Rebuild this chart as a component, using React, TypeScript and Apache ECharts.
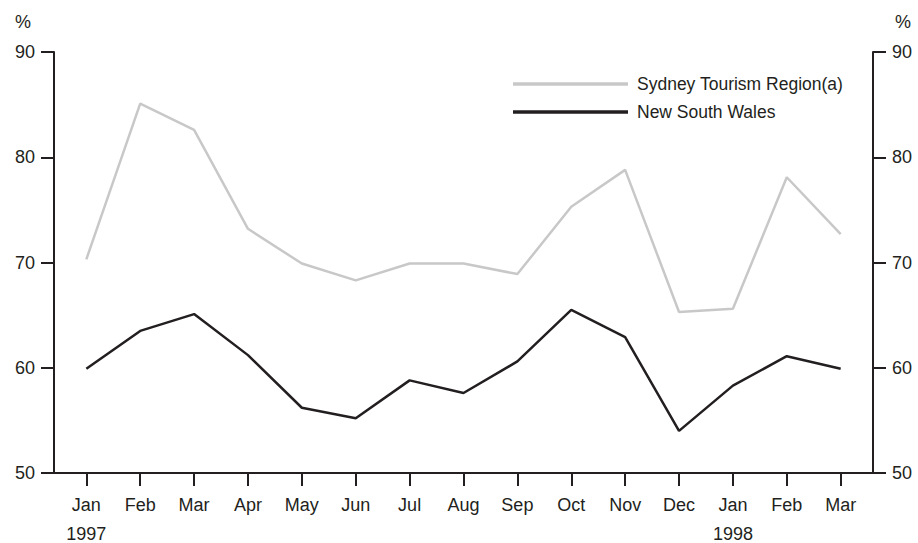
import React, { useEffect, useRef } from "react";
import * as echarts from "echarts";

const months = ["Jan", "Feb", "Mar", "Apr", "May", "Jun", "Jul", "Aug", "Sep", "Oct", "Nov", "Dec", "Jan", "Feb", "Mar"];
const yearLabels: Record<number, string> = { 0: "1997", 12: "1998" };
const sydney = [70.3, 85.1, 82.6, 73.2, 69.9, 68.3, 69.9, 69.9, 68.9, 75.3, 78.8, 65.3, 65.6, 78.1, 72.7];
const nsw = [59.9, 63.5, 65.1, 61.2, 56.2, 55.2, 58.8, 57.6, 60.6, 65.5, 62.9, 54.0, 58.3, 61.1, 59.9];

const FONT = "'Liberation Sans', Arial, sans-serif";
const INK = "#231f20";
const GREY = "#c8c8c8";

export default function App() {
  const ref = useRef<HTMLDivElement>(null);
  useEffect(() => {
    if (!ref.current) return;
    const chart = echarts.init(ref.current, undefined, { renderer: "svg" });
    const idx = months.map((_, i) => i);
    const yAxisBase = {
      type: "value" as const,
      min: 50,
      max: 90,
      interval: 10,
      splitLine: { show: false },
      axisLine: { show: true, onZero: false, lineStyle: { color: INK, width: 2 } },
      axisTick: { show: true, length: 13, lineStyle: { color: INK, width: 2 } },
      axisLabel: { color: INK, fontSize: 18, fontFamily: FONT, margin: 19 },
    };
    chart.setOption({
      animation: false,
      backgroundColor: "#ffffff",
      grid: { left: 54, right: 45, top: 52, bottom: 70, containLabel: false, outerBoundsMode: "none" },
      legend: {
        orient: "vertical",
        left: 513,
        top: 75,
        padding: 0,
        itemWidth: 115,
        itemHeight: 16,
        itemGap: 10,
        textStyle: { color: INK, fontSize: 17.5, fontFamily: FONT, lineHeight: 16, padding: [0, 0, 0, 4] },
        data: [
          { name: "Sydney Tourism Region(a)", icon: "path://M0,0 L100,0 L100,3 L0,3 Z" },
          { name: "New South Wales", icon: "path://M0,0 L100,0 L100,3 L0,3 Z" },
        ],
      },
      xAxis: {
        type: "value",
        min: -0.6,
        max: 14.6,
        splitLine: { show: false },
        axisLine: { show: true, onZero: false, lineStyle: { color: INK, width: 2 } },
        axisTick: { show: true, length: 13, customValues: idx, lineStyle: { color: INK, width: 2 } },
        axisLabel: {
          customValues: idx,
          color: INK,
          fontSize: 18,
          fontFamily: FONT,
          margin: 12,
          verticalAlign: "top",
          rich: {
            m: { fontSize: 18, fontFamily: FONT, color: INK, lineHeight: 40, height: 40 },
            y: { fontSize: 18, fontFamily: FONT, color: INK, lineHeight: 18, height: 18 },
          },
          formatter: (v: number) => {
            const i = Math.round(v);
            return yearLabels[i] ? "{m|" + months[i] + "}\n{y|" + yearLabels[i] + "}" : "{m|" + months[i] + "}";
          },
        },
      },
      yAxis: [
        { ...yAxisBase, position: "left" },
        { ...yAxisBase, position: "right" },
      ],
      graphic: [
        { type: "text", left: 15, top: 13, style: { text: "%", fill: INK, fontSize: 18, fontFamily: FONT } },
        { type: "text", left: 895, top: 13, style: { text: "%", fill: INK, fontSize: 18, fontFamily: FONT } },
      ],
      series: [
        {
          name: "Sydney Tourism Region(a)",
          type: "line",
          symbol: "none",
          data: sydney.map((v, i) => [i, v]),
          lineStyle: { color: GREY, width: 2.5 },
          itemStyle: { color: GREY },
        },
        {
          name: "New South Wales",
          type: "line",
          symbol: "none",
          data: nsw.map((v, i) => [i, v]),
          lineStyle: { color: INK, width: 2.5 },
          itemStyle: { color: INK },
        },
      ],
    });
    return () => chart.dispose();
  }, []);
  return <div ref={ref} style={{ width: 918, height: 543, position: "absolute", left: 0, top: 0 }} />;
}
